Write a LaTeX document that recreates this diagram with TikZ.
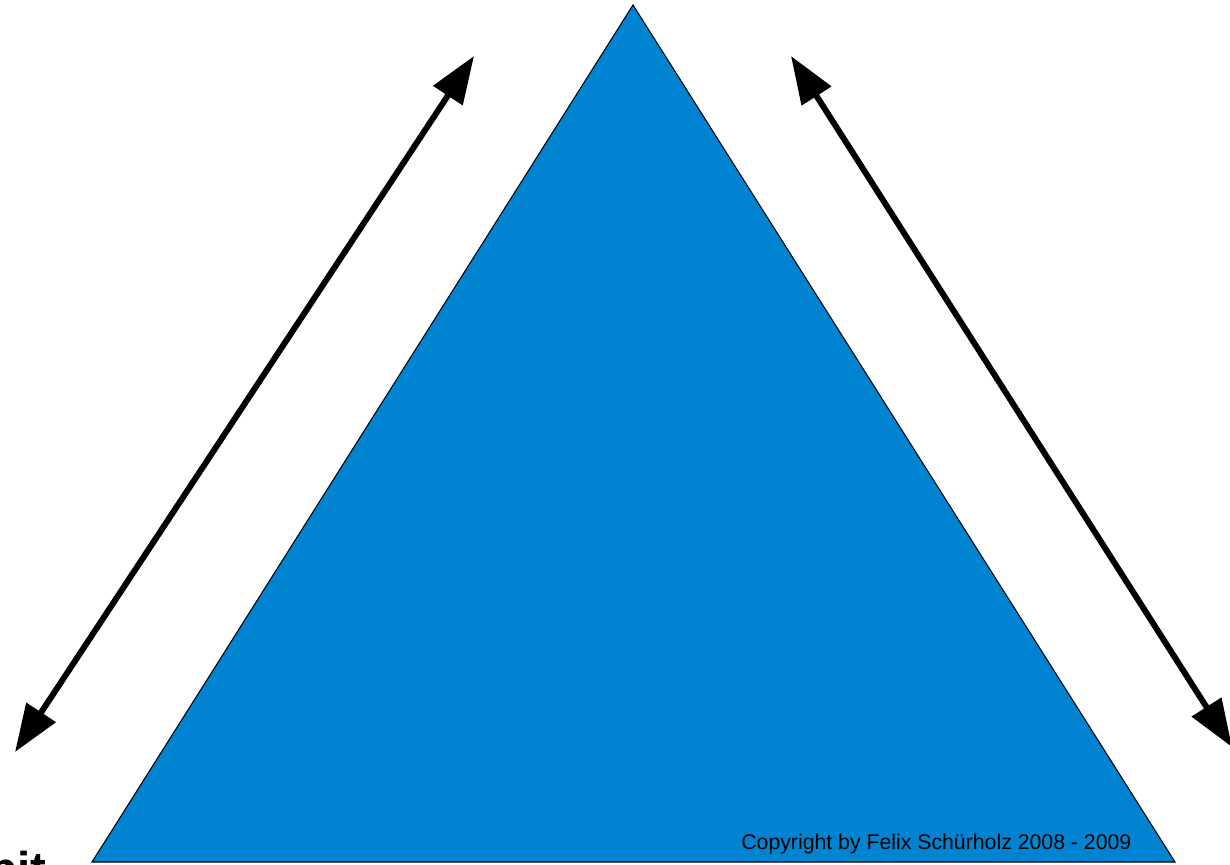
\documentclass[tikz,border=0pt]{standalone}
\usepackage{fontspec}
\setmainfont{Liberation Sans}
\usetikzlibrary{arrows.meta}
\definecolor{triblue}{RGB}{0,131,208}

\begin{document}
\begin{tikzpicture}[x=0.02cm, y=-0.02cm,
  link/.style={{Triangle[length=0.95cm,width=0.68cm]}-{Triangle[length=0.95cm,width=0.68cm]},
               line width=3.4pt},
  note/.style={font=\fontsize{12.1}{14}\selectfont, inner sep=0pt},
]
\useasboundingbox (0,0) rectangle (1230,865);
\clip (0,0) rectangle (1230,865);

% the triangle
\coordinate (top)   at (633,5);
\coordinate (left)  at (92,862);
\coordinate (right) at (1175,862);
\draw[fill=triblue, line width=0.6pt] (top) -- (left) -- (right) -- cycle;

% arrow ends
\coordinate (ltop) at (474,56);
\coordinate (lbot) at (15,752);
\coordinate (rtop) at (791,56);
\coordinate (rbot) at (1232,747);

\draw[link] (lbot) -- (ltop);
\draw[link] (rtop) -- (rbot);

\node[note, anchor=base west] (copy) at (741,849) {Copyright by Felix Schürholz 2008 - 2009};

% cut-off label below the picture
\node[font=\bfseries\fontsize{27}{30}\selectfont, inner sep=0pt, anchor=base west] (cut) at (-12,885) {bit};
\end{tikzpicture}
\end{document}
